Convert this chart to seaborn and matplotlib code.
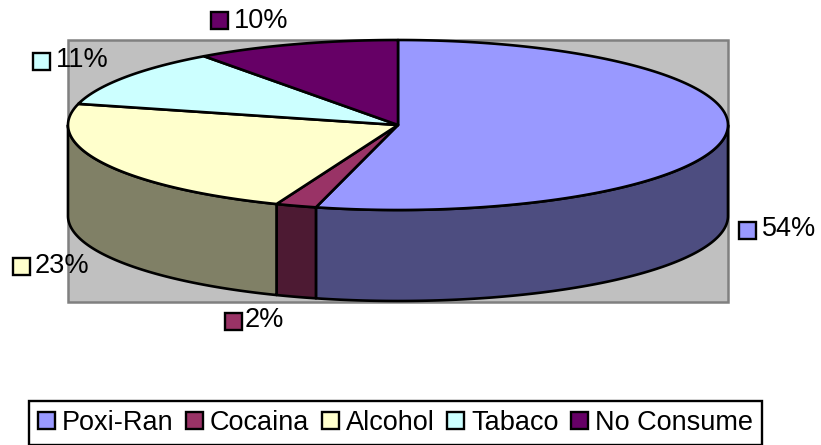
import numpy as np
import seaborn as sns
import matplotlib
matplotlib.use("Agg")
import matplotlib.pyplot as plt
from matplotlib.patches import Rectangle

categorias = ["Poxi-Ran", "Cocaina", "Alcohol", "Tabaco", "No Consume"]
valores = [54, 2, 23, 11, 10]
colores = ["#9999FF", "#993366", "#FFFFCC", "#CCFFFF", "#660066"]

sns.set_theme(style="white")
plt.rcParams["font.family"] = ["Liberation Sans", "DejaVu Sans"]
paleta = sns.color_palette(colores)
oscuros = [tuple(c * 0.5 for c in col) for col in paleta]

# geometria del pastel en pixeles de la imagen
cx, cy, rx, ry, alto = 398, 125, 330, 85, 91


def borde(a0, a1, dy=0):
    # angulos en grados, en sentido horario desde arriba
    t = np.radians(np.linspace(a0, a1, 200))
    return cx + rx * np.sin(t), cy - ry * np.cos(t) + dy


fig = plt.figure(figsize=(8.21, 4.45), dpi=100)
ax = fig.add_axes([0, 0, 1, 1])
ax.set_xlim(0, 821)
ax.set_ylim(445, 0)
ax.axis("off")

ax.add_patch(Rectangle((68, 40), 660, 262, fc="#C0C0C0", ec="#808080", lw=1.8, zorder=1))

limites = np.cumsum([0] + valores) / sum(valores) * 360

# paredes visibles (mitad de abajo)
for i in range(len(valores)):
    a0, a1 = max(limites[i], 90), min(limites[i + 1], 270)
    if a0 >= a1:
        continue
    x, y = borde(a0, a1)
    x2, y2 = borde(a1, a0, alto)
    ax.fill(np.r_[x, x2], np.r_[y, y2], fc=oscuros[i], ec="black", lw=1.9, zorder=2, joinstyle="round")

# tapa
for i in range(len(valores)):
    x, y = borde(limites[i], limites[i + 1])
    ax.fill(np.r_[cx, x], np.r_[cy, y], fc=paleta[i], ec="black", lw=1.9, zorder=3, joinstyle="round")

# etiquetas de porcentaje
pos_cuadro = [(747, 230), (233, 321), (21, 266), (41, 61), (219, 20)]
pos_texto = [(762, 229), (245, 320), (35, 266), (56, 60), (234, 21)]
for i, v in enumerate(valores):
    qx, qy = pos_cuadro[i]
    ax.add_patch(Rectangle((qx - 8.5, qy - 8.5), 17, 17, fc=paleta[i], ec="black", lw=1.7, zorder=4))
    ax.text(pos_texto[i][0], pos_texto[i][1], f"{v}%", fontsize=19.5, color="black",
            va="center", ha="left", zorder=5)

# leyenda
manijas = [Rectangle((0, 0), 1, 1, fc=paleta[i], ec="black", lw=1.7) for i in range(len(valores))]
ley = ax.legend(manijas, categorias, ncol=5, loc="center", bbox_to_anchor=(395.5 / 821, 1 - 423 / 445),
                fontsize=19.5, labelcolor="black", frameon=True, fancybox=False, edgecolor="black",
                framealpha=1, handlelength=0.63, handleheight=0.63, handletextpad=0.25,
                columnspacing=0.46, borderpad=0.35, borderaxespad=0)
ley.get_frame().set_linewidth(1.7)

fig.savefig("out.png", dpi=100)
